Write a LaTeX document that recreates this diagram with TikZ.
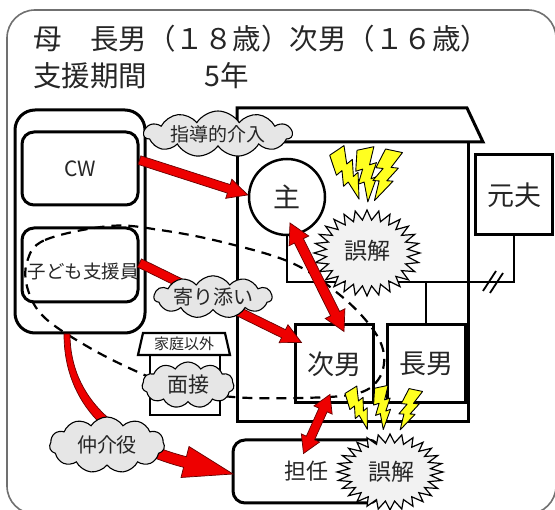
\documentclass[tikz,border=0pt]{standalone}
\usepackage{fontspec}
\setmainfont{Noto Sans CJK JP}
\usetikzlibrary{shapes.symbols,calc}
\definecolor{frameg}{HTML}{707070}
\definecolor{txt}{HTML}{262626}
\definecolor{arrred}{HTML}{EE0000}
\definecolor{boltyel}{HTML}{FFFF20}
\definecolor{cloudg}{HTML}{E6E6E6}
\definecolor{burstg}{HTML}{F2F2F2}
\newcommand\fs[1]{\fontsize{#1}{#1}\selectfont}
\tikzset{
  frame/.style={draw=frameg, line width=1.6},
  wall/.style={draw=black, line width=3, line join=miter},
  boxA/.style={draw=black, line width=3, fill=white, inner sep=0pt, text=txt},
  rbox/.style={boxA, rounded corners=12},
  cloudn/.style={cloud, cloud puffs=11, cloud puff arc=115, cloud ignores aspect, draw=black, line width=1.1, fill=cloudg, inner sep=0pt, text=txt},
  redarrow/.style={fill=arrred, draw=black!60!red, line width=0.7, line join=miter},
  burstst/.style={fill=burstg, draw=black, line width=1.2, line join=miter},
  boltst/.style={fill=boltyel, draw=black, line width=0.9, line join=round},
  dashedcurve/.style={draw=black, line width=2.2, dash pattern=on 10pt off 7pt},
  zapbolt/.pic={\path[boltst] (-8,0) -- (9,-3) -- (4,15) -- (11,13) -- (5,29) -- (11,27) -- (1,52) -- (-2,32) -- (-8,34) -- (-3,19) -- (-10,21) -- cycle;},
}
\newcommand\fatarrow[5]{%
  \coordinate (faH) at ($(#2)!#5!(#1)$);
  \filldraw[redarrow] ($(#1)!#3!90:(#2)$) -- ($(faH)!#3!-90:(#1)$) -- ($(faH)!#4!-90:(#1)$) -- (#2) -- ($(faH)!#4!90:(#1)$) -- ($(faH)!#3!90:(#1)$) -- ($(#1)!#3!-90:(#2)$) -- cycle;}
\newcommand\dblarrow[5]{%
  \coordinate (faA) at ($(#1)!#5!(#2)$);
  \coordinate (faB) at ($(#2)!#5!(#1)$);
  \filldraw[redarrow] (#1) -- ($(faA)!#4!90:(#2)$) -- ($(faA)!#3!90:(#2)$) -- ($(faB)!#3!-90:(#1)$) -- ($(faB)!#4!-90:(#1)$) -- (#2) -- ($(faB)!#4!90:(#1)$) -- ($(faB)!#3!90:(#1)$) -- ($(faA)!#3!-90:(#2)$) -- ($(faA)!#4!-90:(#2)$) -- cycle;}
\newcommand\burstat[3]{%
  \filldraw[burstst, shift={#1}] (#2,0) \foreach \k in {1,...,55}{ -- ({(mod(\k,2)==0?1:0.77)*#2*cos(\k*45/7)}, {(mod(\k,2)==0?1:0.77)*#3*sin(\k*45/7)}) } -- cycle;}
\begin{document}
\begin{tikzpicture}[x=1pt,y=-1pt]
\useasboundingbox (0,0) rectangle (555,510);
\clip (0,0) rectangle (555,510);
\fill[white] (0,0) rectangle (555,510);
\draw[frame, rounded corners=28] (7,10) rectangle (556,514);

% title
\node[anchor=west, inner sep=0, font=\fs{28.5}, text=txt] (t1) at (33,39) {母　長男（１８歳）次男（１６歳）};
\node[anchor=west, inner sep=0, font=\fs{28.5}, text=txt] (t2) at (33,76) {支援期間　　5年};

% house
\draw[wall, fill=white] (237,108) -- (467,108) -- (483,142) -- (237,142) -- cycle;
\draw[wall] (237,142) -- (237,422) -- (468,422) -- (468,142);

\node[boxA, minimum width=77, minimum height=80, font=\fs{27}] (motto) at (514,195) {元夫};
\node[circle, draw, line width=2.5, fill=white, minimum size=76, inner sep=0, text=txt, font=\fs{27}] (shu) at (287,197) {主};
\coordinate (famline) at (425,282);
\draw[wall, line width=2.6] (shu.south) |- (famline) -| (motto.south);
\node[boxA, minimum width=78, minimum height=78, font=\fs{27}] (jinan) at (334,364) {次男};
\node[boxA, minimum width=78, minimum height=78, font=\fs{27}] (chonan) at (426,364) {長男};
\draw[wall, line width=2.6] (chonan.north |- famline) -- (chonan.north);
\draw[line width=1.8] (483,291) -- (496,271);
\draw[line width=1.8] (490,293) -- (503,273);

% left group
\node[boxA, rounded corners=20, minimum width=130, minimum height=223] (grp) at (80,221.5) {};
\node[rbox, minimum width=116, minimum height=73, font=\fs{21}] (cw) at (80,168.5) {CW};
\node[rbox, minimum width=116, minimum height=74] (kodomo) at (80,265) {};
\node[font=\fs{18.5}, text=txt, inner sep=0] (kodomoLbl) at (83,272) {子ども支援員};

% teacher
\node[rbox, minimum width=147, minimum height=63, font=\fs{22}] (tannin) at (306.5,471.5) {担任};

% outside-home building
\draw[wall, line width=2.2, fill=white] (150,355) rectangle (220,415);
\draw[wall, line width=2.2, fill=white] (143,333) -- (225,333) -- (230,355) -- (138,355) -- cycle;
\node[font=\fs{15}, text=txt, inner sep=0] (katei) at (184,344) {家庭以外};

% dashed boundary
\draw[dashedcurve] plot[smooth cycle, tension=0.6] coordinates {(27,262) (45,240) (110,226) (160,230) (222,242) (292,263) (340,295) (372,328) (384,355) (378,380) (355,394) (300,398) (233,397) (180,388) (140,373) (90,348) (45,318) (28,290)};

% bursts and bolts
\burstat{(367,253)}{53}{43}
\node[font=\fs{23}, text=txt, inner sep=0] (gokai1) at (367,251) {誤解};
\pic[rotate=24] at (337,152) {zapbolt};
\pic[rotate=2] at (365,150) {zapbolt};
\pic[rotate=-22] at (393,152) {zapbolt};

\burstat{(390,472)}{53}{38}
\node[font=\fs{23}, text=txt, inner sep=0] (gokai2) at (391,472) {誤解};
\pic[rotate=22, scale=0.8] at (351,391) {zapbolt};
\pic[rotate=2, scale=0.8] at (381,388) {zapbolt};
\pic[rotate=-22, scale=0.8] at (415,391) {zapbolt};

% red arrows
\fatarrow{cw.8}{shu.177}{4.5pt}{10pt}{20pt}
\coordinate (a2s) at ($(kodomo.east)+(0,-2)$);
\coordinate (a2t) at ($(jinan.north west)+(8,19)$);
\fatarrow{a2s}{a2t}{4.5pt}{10pt}{20pt}
\coordinate (a3s) at ($(shu.center)+(3,26)$);
\coordinate (a3t) at ($(jinan.north)+(10,8)$);
\dblarrow{a3s}{a3t}{5pt}{11pt}{20pt}
\coordinate (a4s) at ($(jinan.south)+(-4,-10)$);
\coordinate (a4t) at ($(tannin.north)+(-3,15)$);
\dblarrow{a4s}{a4t}{4.5pt}{10pt}{17pt}
\filldraw[redarrow] (64,334) -- (70,334) .. controls (70,398) and (118.6,439.4) .. (186.4,456.7) -- (189,446.5) -- (233,474) -- (181,477.5) -- (183.6,467.3) .. controls (111.6,448.9) and (64,404) .. (64,334) -- cycle;

% clouds
\node[cloudn, minimum width=148, minimum height=46, font=\fs{19}] (c1) at (218,134) {指導的介入};
\node[cloudn, minimum width=118, minimum height=36, font=\fs{20}] (c2) at (213,297) {寄り添い};
\node[cloudn, minimum width=92, minimum height=46, font=\fs{21}] (c3) at (188,385) {面接};
\node[cloudn, minimum width=115, minimum height=56, font=\fs{20}] (c4) at (107,445) {仲介役};
\end{tikzpicture}
\end{document}
